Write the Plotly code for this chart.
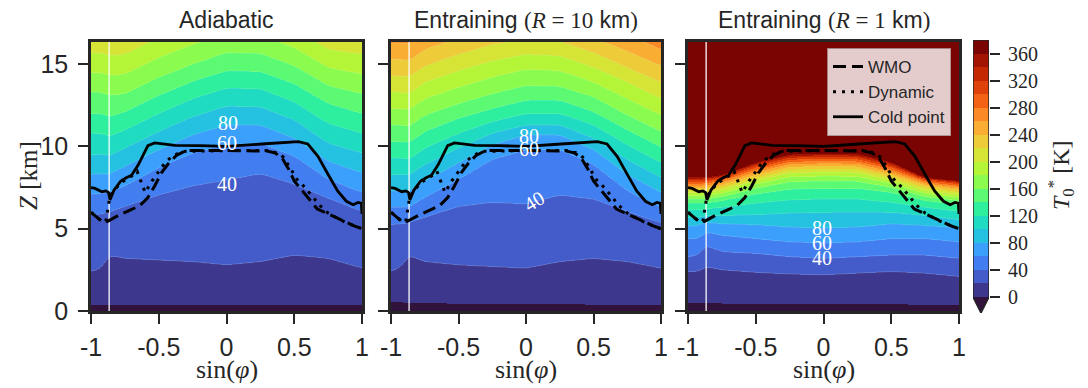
import numpy as np
import plotly.graph_objects as go

W, H = 1088, 388

# ---------------- data ----------------
# x positions (sin(phi)) at which the height [km] of each T0* isoline was read
x_nodes = [-1, -0.92, -0.87, -0.75, -0.5, -0.25, 0, 0.25, 0.5, 0.75, 1]

adiab_levels = [0, 20, 40, 60, 80, 100, 120, 140, 160, 180, 200, 220]
adiab_iso_km = [
    [0.38, 0.38, 0.38, 0.38, 0.38, 0.38, 0.38, 0.38, 0.38, 0.38, 0.38],
    [2.4, 2.6, 3.4, 3.2, 3.1, 3.0, 2.8, 3.0, 3.4, 3.2, 2.6],
    [5.85, 5.9, 6.0, 6.35, 7.05, 7.6, 7.95, 8.35, 7.7, 6.85, 6.05],
    [7.1, 7.15, 7.2, 7.6, 8.7, 9.6, 10.1, 10.2, 9.4, 8.0, 7.2],
    [8.3, 8.35, 8.3, 8.8, 9.8, 10.7, 11.3, 11.3, 10.5, 9.1, 8.4],
    [9.5, 9.55, 9.4, 9.9, 10.9, 11.8, 12.45, 12.4, 11.6, 10.2, 9.6],
    [10.8, 10.8, 10.6, 11.0, 12.0, 12.9, 13.55, 13.5, 12.7, 11.4, 10.8],
    [12.0, 12.0, 11.8, 12.1, 13.1, 13.95, 14.6, 14.55, 13.8, 12.6, 12.0],
    [13.3, 13.3, 13.1, 13.2, 14.2, 15.0, 15.7, 15.65, 14.9, 13.7, 13.2],
    [14.5, 14.5, 14.3, 14.4, 15.4, 16.2, 16.8, 16.75, 16.0, 14.8, 14.4],
    [15.7, 15.7, 15.5, 15.6, 16.6, 17.3, 17.9, 17.85, 17.1, 15.9, 15.6],
    [16.9, 16.9, 16.7, 16.8, 17.8, 18.4, 19.0, 18.95, 18.2, 17.0, 16.8],
]

ent10_levels = [0, 20, 40, 60, 80, 100, 120, 140, 160, 180, 200, 220, 240, 260, 280]
ent10_iso_km = [
    [0.55, 0.55, 0.52, 0.5, 0.47, 0.45, 0.43, 0.42, 0.4, 0.4, 0.4],
    [2.4, 2.7, 3.4, 3.0, 2.8, 2.7, 2.6, 3.0, 3.2, 3.0, 2.6],
    [5.25, 5.3, 5.35, 5.7, 6.35, 6.6, 6.5, 7.05, 6.8, 6.05, 5.35],
    [6.3, 6.3, 6.3, 6.9, 8.0, 9.2, 9.8, 9.8, 8.9, 7.3, 6.3],
    [7.3, 7.3, 7.3, 7.9, 9.0, 10.1, 10.7, 10.7, 9.8, 8.3, 7.2],
    [8.3, 8.3, 8.25, 8.9, 9.9, 10.8, 11.3, 11.3, 10.5, 9.2, 8.1],
    [9.3, 9.3, 9.2, 9.9, 10.8, 11.5, 12.0, 12.0, 11.3, 10.1, 9.0],
    [10.3, 10.3, 10.2, 10.9, 11.7, 12.3, 12.8, 12.8, 12.1, 11.0, 9.95],
    [11.3, 11.3, 11.2, 11.9, 12.6, 13.2, 13.7, 13.65, 13.0, 11.9, 10.9],
    [12.3, 12.3, 12.2, 12.9, 13.6, 14.2, 14.7, 14.6, 13.9, 12.9, 11.9],
    [13.3, 13.3, 13.2, 13.9, 14.6, 15.2, 15.6, 15.5, 14.8, 13.9, 12.9],
    [14.3, 14.3, 14.2, 14.9, 15.6, 16.2, 16.5, 16.4, 15.7, 14.8, 13.9],
    [15.3, 15.3, 15.2, 15.9, 16.6, 17.2, 17.4, 17.3, 16.6, 15.8, 14.9],
    [16.3, 16.3, 16.2, 16.9, 17.6, 18.2, 18.3, 18.2, 17.5, 16.8, 15.9],
    [17.3, 17.3, 17.2, 17.9, 18.6, 19.2, 19.2, 19.1, 18.4, 17.8, 16.9],
]

ent1_levels = [0, 20, 40, 60, 80, 100, 120, 140, 160, 180, 200,
               220, 240, 260, 280, 300, 320, 340, 360, 380]
ent1_iso_km = [
    [0.5, 0.5, 0.5, 0.48, 0.45, 0.43, 0.42, 0.42, 0.41, 0.4, 0.4],
    [2.4, 2.4, 2.7, 2.5, 2.35, 2.25, 2.2, 2.3, 2.4, 2.3, 2.1],
    [3.3, 3.4, 4.0, 3.6, 3.5, 3.3, 3.2, 3.3, 3.4, 3.4, 3.2],
    [4.4, 4.4, 4.8, 4.6, 4.4, 4.2, 4.13, 4.2, 4.4, 4.4, 4.2],
    [5.15, 5.2, 5.4, 5.3, 5.25, 5.1, 5.05, 5.1, 5.3, 5.2, 5.05],
    [5.65, 5.7, 5.8, 5.8, 5.85, 5.95, 6.0, 6.0, 6.0, 5.8, 5.55],
    [6.15, 6.15, 6.2, 6.3, 6.55, 6.75, 6.8, 6.8, 6.6, 6.3, 6.05],
    [6.55, 6.55, 6.55, 6.7, 7.1, 7.4, 7.45, 7.45, 7.2, 6.7, 6.45],
    [6.8, 6.8, 6.8, 6.95, 7.45, 7.85, 7.9, 7.88, 7.5, 6.95, 6.7],
    [7.0, 7.0, 7.0, 7.15, 7.7, 8.15, 8.2, 8.18, 7.75, 7.15, 6.9],
    [7.2, 7.2, 7.2, 7.35, 7.92, 8.4, 8.45, 8.43, 7.95, 7.33, 7.08],
    [7.36, 7.36, 7.36, 7.52, 8.12, 8.6, 8.65, 8.63, 8.15, 7.5, 7.24],
    [7.5, 7.5, 7.5, 7.67, 8.3, 8.77, 8.82, 8.8, 8.32, 7.64, 7.38],
    [7.63, 7.63, 7.63, 7.8, 8.46, 8.93, 8.98, 8.96, 8.48, 7.76, 7.5],
    [7.75, 7.75, 7.75, 7.92, 8.6, 9.07, 9.12, 9.1, 8.62, 7.86, 7.61],
    [7.86, 7.86, 7.86, 8.03, 8.73, 9.2, 9.25, 9.23, 8.75, 7.95, 7.71],
    [7.96, 7.96, 7.96, 8.13, 8.85, 9.32, 9.37, 9.35, 8.86, 8.02, 7.79],
    [8.05, 8.05, 8.05, 8.21, 8.95, 9.43, 9.48, 9.46, 8.96, 8.07, 7.85],
    [8.14, 8.14, 8.14, 8.27, 9.02, 9.53, 9.58, 9.56, 9.04, 8.1, 7.9],
    [8.22, 8.22, 8.22, 8.32, 9.08, 9.63, 9.68, 9.66, 9.12, 8.13, 7.94],
]

# tropopause heights [km]
cold_x = [-1, -0.97, -0.92, -0.89, -0.87, -0.86, -0.83, -0.78, -0.74, -0.70, -0.65, -0.616,
          -0.58, -0.53, -0.38, -0.2, 0, 0.26, 0.4, 0.53, 0.6, 0.675, 0.75, 0.82, 0.885,
          0.935, 0.97, 0.995, 1]
cold_z = [7.5, 7.45, 7.25, 7.3, 7.2, 6.75, 7.35, 7.9, 8.1, 8.25, 8.9, 9.45,
          10.05, 10.22, 10.07, 10.05, 10.0, 10.15, 10.22, 10.3, 10.15, 9.4, 8.3, 7.3, 6.67,
          6.46, 6.6, 6.55, 5.9]
wmo_x = [-1, -0.96, -0.92, -0.89, -0.86, -0.8, -0.72, -0.64, -0.58, -0.53, -0.48, -0.43,
         -0.37, -0.3, 0, 0.3, 0.36, 0.41, 0.46, 0.5, 0.56, 0.62, 0.67, 0.75, 0.85, 0.95, 1]
wmo_z = [6.0, 5.7, 5.45, 5.4, 5.55, 5.8, 6.1, 6.4, 6.9, 7.6, 8.4, 8.95,
         9.45, 9.75, 9.75, 9.72, 9.6, 9.3, 8.6, 7.9, 7.3, 6.7, 6.2, 5.9, 5.5, 5.15, 5.0]
dyn_x = [-1, -0.96, -0.92, -0.89, -0.86, -0.83, -0.78, -0.74, -0.70, -0.66, -0.6, -0.55,
         -0.5, -0.45, -0.4, -0.33, 0, 0.3, 0.37, 0.42, 0.47, 0.52, 0.58, 0.64, 0.69, 0.75,
         0.85, 0.95, 1]
dyn_z = [6.0, 5.7, 5.45, 5.45, 7.0, 7.3, 7.8, 8.0, 8.2, 8.5, 7.2, 7.9,
         8.5, 9.05, 9.4, 9.7, 9.75, 9.75, 9.62, 9.35, 8.7, 8.0, 7.5, 6.9, 6.4, 5.95,
         5.5, 5.15, 5.0]

lat60_sin = -0.866

panel_titles = [
    "Adiabatic",
    "Entraining <span style=\"font-family:'Liberation Serif'\">(<i>R</i> = 10</span> km"
    "<span style=\"font-family:'Liberation Serif'\">)</span>",
    "Entraining <span style=\"font-family:'Liberation Serif'\">(<i>R</i> = 1</span> km"
    "<span style=\"font-family:'Liberation Serif'\">)</span>",
]
# contour label text, position (sin phi, km) and angle for each panel
clabels = [
    [("80", 0.01, 11.43, 0), ("60", 0.0, 10.2, 0), ("40", 0.0, 7.7, 0)],
    [("80", 0.02, 10.65, 0), ("60", 0.02, 9.85, 0), ("40", 0.06, 6.7, -32)],
    [("80", -0.01, 5.05, 0), ("60", -0.01, 4.13, 0), ("40", -0.01, 3.22, 0)],
]

level_start, level_end, level_step = 0, 380, 20
cbar_ticks = list(range(0, 361, 40))
z_top = 16.35

# ---------------- styling ----------------
TURBO = ["#30123b", "#4145ab", "#4675ed", "#39a2fc", "#1bcfd4", "#24eca6", "#61fc6c",
         "#a4fc3b", "#d1e834", "#f3c63a", "#fe9b2d", "#f36315", "#d93806", "#b11901", "#7a0402"]


def _rgb(h):
    return [int(h[i:i + 2], 16) for i in (1, 3, 5)]


def turbo(t):
    t = min(max(t, 0.0), 1.0) * (len(TURBO) - 1)
    i = min(int(np.floor(t)), len(TURBO) - 2)
    f = t - i
    a, b = _rgb(TURBO[i]), _rgb(TURBO[i + 1])
    return "rgb(%d,%d,%d)" % tuple(round(a[j] + (b[j] - a[j]) * f) for j in range(3))


n_bands = (level_end - level_start) // level_step
band_colors = [turbo(0)] + [turbo(k / n_bands) for k in range(1, n_bands + 1)] + [turbo(1)]
nb = len(band_colors)
cscale = []
for k, c in enumerate(band_colors):
    lo = max(0.0, (k - 0.5) / (nb - 1))
    hi = min(1.0, (k + 0.5) / (nb - 1))
    cscale += [[lo, c], [hi, c]]

SANS = "Liberation Sans"
SERIF = "Liberation Serif"
INK = "#262626"
line_top = [220, 280, 200]   # highest level that gets a thin white isoline

# ---------------- field from isoline heights ----------------
xg = np.linspace(-1, 1, 361)
zg = np.linspace(0, 16.5, 1101)


def build_field(levels, iso):
    iso = np.asarray(iso, float)
    lev = np.asarray(levels, float)
    hx = np.array([np.interp(xg, x_nodes, row) for row in iso])
    ker = np.exp(-0.5 * (np.arange(-12, 13) / 4.5) ** 2)
    ker /= ker.sum()
    hp = np.pad(hx, ((0, 0), (12, 12)), mode="edge")
    hs = np.array([np.convolve(r, ker, mode="valid") for r in hp])
    T = np.empty((zg.size, xg.size))
    for j in range(xg.size):
        h = np.maximum.accumulate(hs[:, j] + np.arange(lev.size) * 1e-6)
        hz = np.concatenate([[h[0] - 1.0], h, [h[-1] + 10 * (h[-1] - h[-2])]])
        tz = np.concatenate([[lev[0] - 20], lev, [lev[-1] + 200]])
        T[:, j] = np.interp(zg, hz, tz)
    return T


def band_index(T):
    k = np.floor((T - level_start) / level_step) + 1
    return np.clip(k, 0, n_bands + 1)


fields = [build_field(adiab_levels, adiab_iso_km),
          build_field(ent10_levels, ent10_iso_km),
          build_field(ent1_levels, ent1_iso_km)]

# ---------------- figure ----------------
fig = go.Figure()
px_x = [(91, 362), (391, 661), (688, 959)]
py = (42, 311)
ax_ids = ["", "2", "3"]

for p in range(3):
    xa, ya = "x" + ax_ids[p], "y" + ax_ids[p]
    # filled bands
    fig.add_trace(go.Heatmap(
        x=xg, y=zg, z=band_index(fields[p]), xaxis=xa, yaxis=ya,
        colorscale=cscale, zmin=0, zmax=n_bands + 1, zsmooth=False,
        showscale=False, hoverinfo="skip"))
    # thin isolines
    fig.add_trace(go.Contour(
        x=xg, y=zg, z=fields[p], xaxis=xa, yaxis=ya, showscale=False, autocontour=False,
        contours=dict(start=level_start + level_step, end=line_top[p], size=level_step,
                      coloring="none", showlines=True),
        line=dict(width=0.6, color="rgba(255,255,255,0.3)", smoothing=0),
        hoverinfo="skip", showlegend=False))
    fig.add_trace(go.Scatter(x=[lat60_sin, lat60_sin], y=[0, z_top], mode="lines",
                             line=dict(color="rgba(255,255,255,0.85)", width=1.5),
                             xaxis=xa, yaxis=ya, showlegend=False, hoverinfo="skip"))
    show = (p == 2)
    fig.add_trace(go.Scatter(x=wmo_x, y=wmo_z, mode="lines", name="WMO",
                             line=dict(color="black", width=3, dash="13px,6px"),
                             xaxis=xa, yaxis=ya, showlegend=show))
    fig.add_trace(go.Scatter(x=dyn_x, y=dyn_z, mode="lines", name="Dynamic",
                             line=dict(color="black", width=3, dash="3px,6px"),
                             xaxis=xa, yaxis=ya, showlegend=show))
    fig.add_trace(go.Scatter(x=cold_x, y=cold_z, mode="lines", name="Cold point",
                             line=dict(color="black", width=2.8),
                             xaxis=xa, yaxis=ya, showlegend=show))
    for txt, lx, lz, ang in clabels[p]:
        fig.add_annotation(x=lx, y=lz, xref=xa, yref=ya, text=txt, showarrow=False,
                           textangle=ang, font=dict(family=SERIF, size=20, color="white"))

# colorbar drawn as its own axes
band_centers = [level_start + level_step * (k + 0.5) for k in range(n_bands)]
tri = level_step * 1.185
fig.add_trace(go.Heatmap(x=[0.5], y=band_centers,
                         z=[[k + 1] for k in range(n_bands)],
                         colorscale=cscale, zmin=0, zmax=n_bands + 1, showscale=False,
                         xaxis="x4", yaxis="y4", hoverinfo="skip"))
fig.add_trace(go.Scatter(x=[0, 1, 0.5, 0], y=[0, 0, -tri, 0], fill="toself",
                         fillcolor=turbo(0), mode="lines", line=dict(width=0),
                         xaxis="x4", yaxis="y4", showlegend=False, hoverinfo="skip"))
fig.add_trace(go.Scatter(x=[0, 0, 1, 1, 0.5, 0], y=[0, level_end, level_end, 0, -tri, 0],
                         mode="lines", line=dict(color=INK, width=1.5),
                         xaxis="x4", yaxis="y4", showlegend=False, hoverinfo="skip"))

layout = dict(width=W, height=H, margin=dict(l=0, r=0, t=0, b=0, autoexpand=False),
              paper_bgcolor="white", plot_bgcolor="white",
              legend=dict(x=951 / W, xanchor="right", y=1 - 48 / H, yanchor="top",
                          bgcolor="rgba(255,255,255,0.8)", bordercolor="rgba(170,140,140,0.9)",
                          borderwidth=1, font=dict(family=SANS, size=17, color=INK),
                          tracegroupgap=0, traceorder="normal"))
ydom = [1 - py[1] / H, 1 - py[0] / H]
for p in range(3):
    xd = [px_x[p][0] / W, px_x[p][1] / W]
    suffix = ax_ids[p]
    layout["xaxis" + suffix] = dict(
        domain=xd, anchor="y" + suffix, range=[-1, 1], automargin=False,
        tickvals=[-1, -0.5, 0, 0.5, 1], ticktext=["-1", "-0.5", "0", "0.5", "1"],
        ticks="outside", ticklen=10, tickwidth=2, tickcolor=INK,
        showline=True, linewidth=2.5, linecolor=INK, mirror=True,
        showgrid=False, zeroline=False, ticklabelstandoff=2,
        tickfont=dict(family=SANS, size=25, color=INK))
    layout["yaxis" + suffix] = dict(
        domain=ydom, anchor="x" + suffix, range=[0, z_top], automargin=False,
        tickvals=[0, 5, 10, 15], ticks="outside", ticklen=10, tickwidth=2, tickcolor=INK,
        showline=True, linewidth=2.5, linecolor=INK, mirror=True,
        showgrid=False, zeroline=False, showticklabels=(p == 0), ticklabelstandoff=5,
        tickfont=dict(family=SANS, size=25, color=INK))
    # titles
    cx = (px_x[p][0] + px_x[p][1]) / 2 / W
    fig.add_annotation(x=cx, y=1 - 20 / H, xref="paper", yref="paper", text=panel_titles[p],
                       showarrow=False, xanchor="center", yanchor="middle",
                       font=dict(family=SANS, size=23, color=INK))
    fig.add_annotation(x=cx, y=1 - 369 / H, xref="paper", yref="paper",
                       text="sin(<i>φ</i>)", showarrow=False, xanchor="center",
                       yanchor="middle", font=dict(family=SERIF, size=26, color=INK))

layout["xaxis4"] = dict(domain=[973 / W, 989 / W], anchor="y4", range=[0, 1], visible=False,
                        automargin=False)
layout["yaxis4"] = dict(domain=[1 - 313 / H, 1 - 40 / H], anchor="x4", side="right",
                        range=[-tri, level_end], tickvals=cbar_ticks, ticks="outside",
                        ticklen=10, tickwidth=2, tickcolor=INK, showline=False,
                        showgrid=False, zeroline=False, ticklabelstandoff=4, automargin=False,
                        tickfont=dict(family=SERIF, size=20, color=INK))
fig.update_layout(**layout)

fig.add_annotation(x=29 / W, y=1 - 176 / H, xref="paper", yref="paper",
                   text="<i>Z</i> [km]", textangle=-90, showarrow=False,
                   xanchor="center", yanchor="middle",
                   font=dict(family=SERIF, size=25, color=INK))
fig.add_annotation(x=1061 / W, y=1 - 176 / H, xref="paper", yref="paper",
                   text="<i>T</i><sub>0</sub><sup>*</sup> [K]", textangle=-90, showarrow=False,
                   xanchor="center", yanchor="middle",
                   font=dict(family=SERIF, size=24, color=INK))

fig.write_html("out.html", config={"displayModeBar": False},
               post_script="document.body.style.margin='0px';"
                           "document.body.style.overflow='hidden';")
